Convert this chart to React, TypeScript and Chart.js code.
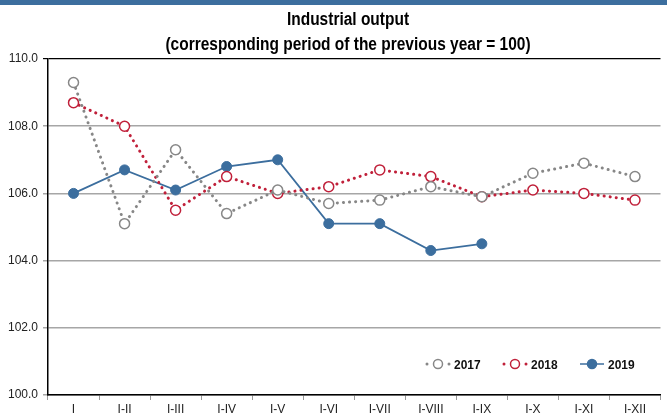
import React, { useEffect, useRef } from "react";
import { Chart, registerables } from "chart.js";

Chart.register(...registerables);

const categories = ["I", "I-II", "I-III", "I-IV", "I-V", "I-VI", "I-VII", "I-VIII", "I-IX", "I-X", "I-XI", "I-XII"];
const series2017 = [109.3, 105.1, 107.3, 105.4, 106.1, 105.7, 105.8, 106.2, 105.9, 106.6, 106.9, 106.5];
const series2018 = [108.7, 108.0, 105.5, 106.5, 106.0, 106.2, 106.7, 106.5, 105.9, 106.1, 106.0, 105.8];
const series2019 = [106.0, 106.7, 106.1, 106.8, 107.0, 105.1, 105.1, 104.3, 104.5];
const seriesNames = ["2017", "2018", "2019"];
const titleLines = ["Industrial output", "(corresponding period of the previous year = 100)"];

const GRAY = "#878787";
const RED = "#C0203A";
const BLUE = "#3C6E9E";
const FONT = "'Liberation Sans', Arial, sans-serif";

const overlay = {
  id: "overlay",
  afterDraw(chart: any) {
    const ctx = chart.ctx;
    ctx.save();
    // title (condensed)
    ctx.save();
    ctx.translate(348, 0);
    ctx.scale(0.86, 1);
    ctx.fillStyle = "#000";
    ctx.textAlign = "center";
    ctx.textBaseline = "middle";
    ctx.font = `bold 18px ${FONT}`;
    ctx.fillText(titleLines[0], 0, 20);
    ctx.fillText(titleLines[1], 0, 45);
    ctx.restore();
    // legend
    const items = [
      { c: 438, color: GRAY, dotted: true, fill: "#fff" },
      { c: 515, color: RED, dotted: true, fill: "#fff" },
      { c: 592, color: BLUE, dotted: false, fill: BLUE },
    ];
    const ly = 364;
    items.forEach((it, i) => {
      if (it.dotted) {
        ctx.fillStyle = it.color;
        [it.c - 11, it.c + 11].forEach((dx) => {
          ctx.beginPath();
          ctx.arc(dx, ly, 1.5, 0, Math.PI * 2);
          ctx.fill();
        });
      } else {
        ctx.strokeStyle = it.color;
        ctx.lineWidth = 1.5;
        ctx.beginPath();
        ctx.moveTo(it.c - 12, ly);
        ctx.lineTo(it.c + 12, ly);
        ctx.stroke();
      }
      ctx.beginPath();
      ctx.arc(it.c, ly, 4.5, 0, Math.PI * 2);
      ctx.fillStyle = it.fill;
      ctx.fill();
      ctx.strokeStyle = it.color;
      ctx.lineWidth = 1.5;
      ctx.stroke();
      ctx.save();
      ctx.translate(it.c + 16, ly + 1);
      ctx.scale(0.92, 1);
      ctx.fillStyle = "#111";
      ctx.textAlign = "left";
      ctx.textBaseline = "middle";
      ctx.font = `bold 13px ${FONT}`;
      ctx.fillText(seriesNames[i], 0, 0);
      ctx.restore();
    });
    ctx.restore();
  },
};

export default function App() {
  const ref = useRef<HTMLCanvasElement>(null);
  useEffect(() => {
    if (!ref.current) return;
    const chart = new Chart(ref.current, {
      type: "line",
      data: {
        labels: categories,
        datasets: [
          {
            label: seriesNames[0],
            data: series2017,
            borderColor: GRAY,
            backgroundColor: "#fff",
            borderWidth: 3,
            borderDash: [0.1, 6],
            borderCapStyle: "round",
            pointRadius: 5,
            pointBorderWidth: 1.5,
            pointBackgroundColor: "#fff",
            pointBorderColor: GRAY,
            tension: 0,
          },
          {
            label: seriesNames[1],
            data: series2018,
            borderColor: RED,
            backgroundColor: "#fff",
            borderWidth: 3,
            borderDash: [0.1, 6],
            borderCapStyle: "round",
            pointRadius: 5,
            pointBorderWidth: 1.5,
            pointBackgroundColor: "#fff",
            pointBorderColor: RED,
            tension: 0,
          },
          {
            label: seriesNames[2],
            data: series2019,
            borderColor: BLUE,
            backgroundColor: BLUE,
            borderWidth: 1.8,
            pointRadius: 5,
            pointBorderWidth: 1,
            pointBackgroundColor: BLUE,
            pointBorderColor: BLUE,
            tension: 0,
          },
        ],
      },
      options: {
        responsive: false,
        animation: false,
        layout: { padding: { top: 59, left: 0, right: 0, bottom: 0 } },
        plugins: { legend: { display: false }, title: { display: false }, tooltip: { enabled: false } },
        scales: {
          x: {
            offset: true,
            grid: {
              offset: true,
              drawOnChartArea: false,
              drawTicks: true,
              tickLength: 5,
              color: "#999",
            },
            border: { color: "#000", width: 1.5 },
            ticks: { color: "#222", font: { family: FONT, size: 12 }, padding: 2, maxRotation: 0, autoSkip: false },
            afterFit(scale: any) {
              scale.height = 21;
            },
          },
          y: {
            min: 100,
            max: 110,
            ticks: {
              stepSize: 2,
              color: "#222",
              font: { family: FONT, size: 12 },
              padding: 5,
              callback: (v: any) => Number(v).toFixed(1),
            },
            grid: {
              color: (c: any) => (c.tick && c.tick.value === 110 ? "#000" : "#A6A6A6"),
              lineWidth: (c: any) => (c.tick && c.tick.value === 110 ? 1.2 : 1.5),
              tickLength: 5,
            },
            border: { color: "#000", width: 1.5 },
            afterFit(scale: any) {
              scale.width = 48;
            },
          },
        },
      },
      plugins: [overlay],
    } as any);
    return () => chart.destroy();
  }, []);
  return (
    <div style={{ position: "absolute", left: 0, top: 0, width: 667, height: 416, background: "#fff" }}>
      <div style={{ position: "absolute", left: 0, top: 0, width: 667, height: 5, background: BLUE }} />
      <canvas ref={ref} width={667} height={416} style={{ display: "block" }} />
    </div>
  );
}
